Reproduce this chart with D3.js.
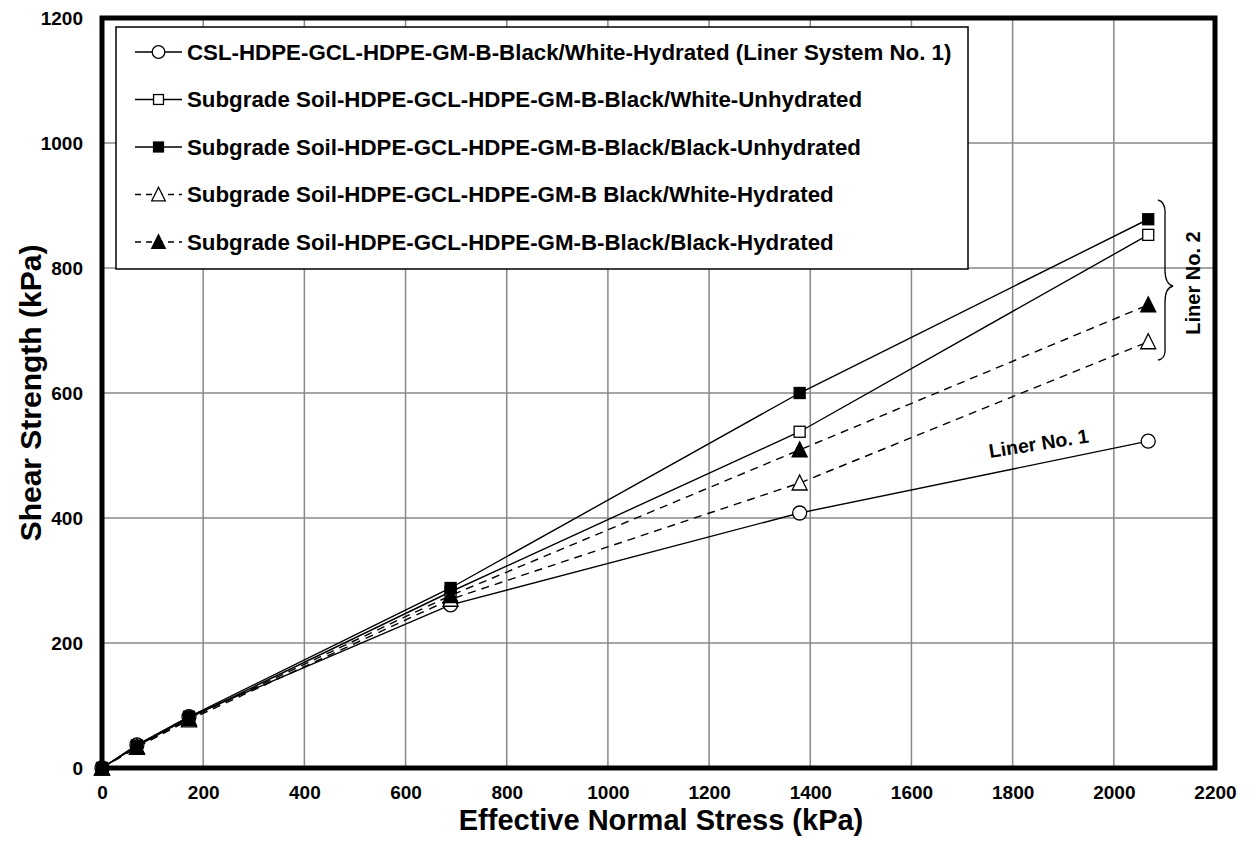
<!DOCTYPE html>
<html><head><meta charset="utf-8">
<script src="https://cdn.jsdelivr.net/npm/d3@7"></script>
<style>body{margin:0;background:#fff}svg{display:block;font-family:"Liberation Sans",Arial,sans-serif}</style>
</head><body><svg id="c" width="1249" height="855"></svg>
<script>
const stress = [0, 69, 172, 689, 1379, 2068];
const liner1 = [0, 37, 82, 261, 408, 523];
const whiteUnhydrated = [0, 35, 80, 282, 538, 853];
const blackUnhydrated = [0, 36, 82, 288, 600, 878];
const whiteHydrated = [0, 33, 77, 270, 456, 682];
const blackHydrated = [0, 34, 79, 276, 509, 741];
const seriesNames = [
  "CSL-HDPE-GCL-HDPE-GM-B-Black/White-Hydrated (Liner System No. 1)",
  "Subgrade Soil-HDPE-GCL-HDPE-GM-B-Black/White-Unhydrated",
  "Subgrade Soil-HDPE-GCL-HDPE-GM-B-Black/Black-Unhydrated",
  "Subgrade Soil-HDPE-GCL-HDPE-GM-B Black/White-Hydrated",
  "Subgrade Soil-HDPE-GCL-HDPE-GM-B-Black/Black-Hydrated"
];
const xTicks = [0,200,400,600,800,1000,1200,1400,1600,1800,2000,2200];
const yTicks = [0,200,400,600,800,1000,1200];

const series = [
  {name: seriesNames[0], vals: liner1, shape: "circle", fill: "#fff", dash: null},
  {name: seriesNames[1], vals: whiteUnhydrated, shape: "square", fill: "#fff", dash: null},
  {name: seriesNames[2], vals: blackUnhydrated, shape: "square", fill: "#000", dash: null},
  {name: seriesNames[3], vals: whiteHydrated, shape: "triangle", fill: "#fff", dash: "8,6"},
  {name: seriesNames[4], vals: blackHydrated, shape: "triangle", fill: "#000", dash: "8,6"}
];

const svg = d3.select("#c");
const L = 102, R = 1215, T = 18, B = 768;
const x = d3.scaleLinear().domain([0,2200]).range([L,R]);
const y = d3.scaleLinear().domain([0,1200]).range([B,T]);
const fmt = d3.format("d");

// grid
svg.append("g").selectAll("line").data(xTicks).join("line")
  .attr("x1", d=>x(d)).attr("x2", d=>x(d)).attr("y1", T).attr("y2", B)
  .attr("stroke", "#888").attr("stroke-width", 1.5);
svg.append("g").selectAll("line").data(yTicks).join("line")
  .attr("y1", d=>y(d)).attr("y2", d=>y(d)).attr("x1", L).attr("x2", R)
  .attr("stroke", "#888").attr("stroke-width", 1.5);

// axes tick labels
const xa = svg.append("g").attr("transform", `translate(0,${B})`)
  .call(d3.axisBottom(x).tickValues(xTicks).tickFormat(fmt).tickSize(0).tickPadding(18));
xa.select(".domain").remove();
xa.selectAll("text").attr("font-size", 19).attr("font-weight", "bold").attr("fill","#000")
  .attr("font-family", "Liberation Sans, Arial, sans-serif");
const ya = svg.append("g").attr("transform", `translate(${L},0)`)
  .call(d3.axisLeft(y).tickValues(yTicks).tickFormat(fmt).tickSize(0).tickPadding(19));
ya.select(".domain").remove();
ya.selectAll("text").attr("font-size", 19).attr("font-weight", "bold").attr("fill","#000")
  .attr("font-family", "Liberation Sans, Arial, sans-serif");

// axis titles
svg.append("text").attr("x", 661).attr("y", 830).attr("text-anchor","middle")
  .attr("font-size", 29).attr("font-weight","bold").text("Effective Normal Stress (kPa)");
svg.append("text").attr("transform", `translate(41,393) rotate(-90)`).attr("text-anchor","middle")
  .attr("font-size", 30).attr("font-weight","bold").text("Shear Strength (kPa)");

// symbols
function drawMarker(g, shape, fill, cx, cy, scale) {
  scale = scale || 1;
  if (shape === "circle") {
    g.append("circle").attr("cx", cx).attr("cy", cy).attr("r", 7*scale)
      .attr("fill", fill).attr("stroke", "#000").attr("stroke-width", 1.3);
  } else if (shape === "square") {
    const s = 11*scale;
    g.append("rect").attr("x", cx-s/2).attr("y", cy-s/2).attr("width", s).attr("height", s)
      .attr("fill", fill).attr("stroke", "#000").attr("stroke-width", 1.3);
  } else {
    const h = 14*scale, w = 15*scale;
    g.append("path").attr("d", `M${cx},${cy-h/2-1} L${cx+w/2},${cy+h/2} L${cx-w/2},${cy+h/2} Z`)
      .attr("fill", fill).attr("stroke", "#000").attr("stroke-width", 1.3);
  }
}

const line = d3.line().x(d=>x(d[0])).y(d=>y(d[1]));
const lg = svg.append("g");
series.forEach(s => {
  const pts = stress.map((v,i)=>[v, s.vals[i]]);
  lg.append("path").datum(pts).attr("d", line).attr("fill","none")
    .attr("stroke","#000").attr("stroke-width",1.4).attr("stroke-dasharray", s.dash);
});
const mg = svg.append("g");
series.forEach(s => {
  stress.forEach((v,i) => drawMarker(mg, s.shape, s.fill, x(v), y(s.vals[i])));
});

// frame
svg.append("rect").attr("x", L).attr("y", T).attr("width", R-L).attr("height", B-T)
  .attr("fill","none").attr("stroke","#000").attr("stroke-width",5);

// legend
const leg = svg.append("g");
leg.append("rect").attr("x",116).attr("y",27).attr("width",852).attr("height",242)
  .attr("fill","#fff").attr("stroke","#000").attr("stroke-width",1.5);
series.forEach((s,i) => {
  const yy = 52 + i*47.5;
  leg.append("line").attr("x1",135).attr("x2",182).attr("y1",yy).attr("y2",yy)
    .attr("stroke","#000").attr("stroke-width",1.3).attr("stroke-dasharray", s.dash ? "6,5" : null);
  drawMarker(leg, s.shape, s.fill, 158.5, yy, 0.9);
  leg.append("text").attr("x",187).attr("y",yy+7.5).attr("font-size",22.3).attr("font-weight","bold")
    .text(s.name);
});

// annotations
svg.append("text").attr("transform","translate(990,458) rotate(-9)").attr("font-size",19.5)
  .attr("font-weight","bold").text("Liner No. 1");
svg.append("path")
  .attr("d","M1158,200 Q1166,202 1165,215 L1165,270 Q1165,284 1173,286 Q1165,288 1165,302 L1165,348 Q1166,359 1158,360")
  .attr("fill","none").attr("stroke","#000").attr("stroke-width",1.3);
svg.append("text").attr("transform","translate(1200,283) rotate(-90)").attr("text-anchor","middle")
  .attr("font-size",20).attr("font-weight","bold").text("Liner No. 2");
</script></body></html>
